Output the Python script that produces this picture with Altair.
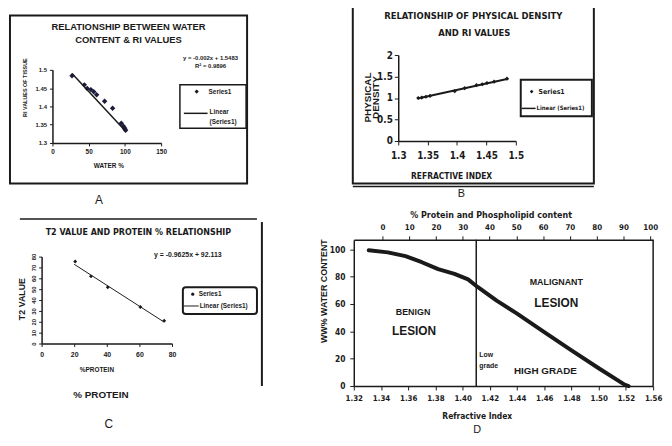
import altair as alt
import pandas as pd

# ---------------- data ----------------
# Panel A : water content vs RI value of tissue
a_water = [27, 44, 48, 53, 57, 61, 72, 83, 95, 98, 99.5, 100, 101]
a_ri = [1.484, 1.459, 1.449, 1.446, 1.440, 1.432, 1.414, 1.395, 1.354, 1.346, 1.341, 1.338, 1.335]
a_fit_water = [27, 101]
a_fit_ri = [1.490, 1.332]
a_x_ticks = [0, 50, 100, 150]
a_y_ticks = [1.3, 1.35, 1.4, 1.45, 1.5]

# Panel B : physical density vs refractive index
b_ri = [1.334, 1.340, 1.347, 1.354, 1.396, 1.413, 1.433, 1.443, 1.451, 1.463, 1.485]
b_density = [1.00, 1.01, 1.03, 1.05, 1.16, 1.23, 1.30, 1.32, 1.35, 1.38, 1.45]
b_fit_ri = [1.333, 1.487]
b_fit_density = [0.99, 1.45]
b_x_ticks = [1.3, 1.35, 1.4, 1.45, 1.5]
b_y_ticks = [0, 0.5, 1, 1.5, 2]

# Panel C : T2 value vs protein %
c_protein = [20.6, 30.3, 40.6, 60.6, 75.2]
c_t2 = [75.5, 61.8, 51.8, 33.6, 20.9]
c_fit_protein = [20, 75]
c_fit_t2 = [72.9, 19.9]
c_x_ticks = [0, 20, 40, 60, 80]
c_y_ticks = [0, 10, 20, 30, 40, 50, 60, 70, 80]

# Panel D : water content vs refractive index
d_ri = [1.331, 1.345, 1.358, 1.370, 1.382, 1.394, 1.404, 1.411, 1.425, 1.440,
        1.460, 1.480, 1.500, 1.519, 1.522]
d_water = [99.3, 97.8, 95.0, 90.6, 85.5, 82.0, 78.0, 72.5, 62.5, 53.0,
           39.5, 26.0, 13.0, 1.0, 0.0]
d_boundary_ri = [1.41]
d_x_ticks = [1.32, 1.34, 1.36, 1.38, 1.40, 1.42, 1.44, 1.46, 1.48, 1.50, 1.52, 1.54]
d_x_labels = ["1.32", "1.34", "1.36", "1.38", "1.40", "1.42", "1.44", "1.46",
              "1.48", "1.50", "1.52", "1.56"]
d_y_ticks = [0, 20, 40, 60, 80, 100]
d_top_ticks = [0, 10, 20, 30, 40, 50, 60, 70, 80, 90, 100]

# ---------------- layout helpers ----------------
W, H = 664, 430
INK = "#1a1a1a"
SANS = "Liberation Sans, Arial, sans-serif"
NARROW = "Liberation Sans Narrow, DejaVu Sans Condensed, Liberation Sans, sans-serif"
ONE = pd.DataFrame({"k": [0]})


def scale(domain, lo, hi):
    return alt.Scale(domain=domain, range=[lo, hi], nice=False, zero=False)


def xaxis(ypos, values, size, font=SANS, orient="bottom", **kw):
    off = ypos - H if orient == "bottom" else -ypos
    return alt.Axis(orient=orient, offset=off, values=values, title=None, grid=False,
                    labelFontSize=size, labelFont=font, labelFontWeight="bold",
                    labelColor=INK, domainColor=INK, tickColor=INK,
                    labelOverlap=False, labelFlush=False, **kw)


def yaxis(xpos, values, size, font=SANS, **kw):
    return alt.Axis(orient="left", offset=-xpos, values=values, title=None, grid=False,
                    labelFontSize=size, labelFont=font, labelFontWeight="bold",
                    labelColor=INK, domainColor=INK, tickColor=INK,
                    labelOverlap=False, labelFlush=False, **kw)


def label(text, x, y, size=9, weight="bold", align="center", angle=0, font=SANS):
    return alt.Chart(ONE).mark_text(text=text, align=align, baseline="middle", fontSize=size,
                                    fontWeight=weight, font=font, angle=angle, color=INK
                                    ).encode(x=alt.value(x), y=alt.value(y))


def box(x1, y1, x2, y2, width=1.5, radius=0):
    return alt.Chart(ONE).mark_rect(fillOpacity=0, stroke=INK, strokeWidth=width,
                                    cornerRadius=radius
                                    ).encode(x=alt.value(x1), x2=alt.value(x2),
                                             y=alt.value(y1), y2=alt.value(y2))


def seg(x1, y1, x2, y2, width=1.5):
    return alt.Chart(ONE).mark_rule(color=INK, strokeWidth=width).encode(
        x=alt.value(x1), x2=alt.value(x2), y=alt.value(y1), y2=alt.value(y2))


def marker(x, y, shape="diamond", size=20):
    return alt.Chart(ONE).mark_point(shape=shape, filled=True, size=size, color=INK,
                                     opacity=1).encode(x=alt.value(x), y=alt.value(y))


layers = []

# ---------------- Panel A ----------------
ax_s = scale([0, 150], 45, 155)
ay_s = scale([1.3, 1.5], 134, 60)
layers += [
    box(2, 5, 242, 175, 2),
    label("RELATIONSHIP BETWEEN WATER", 122, 17, 9.5),
    label("CONTENT & RI VALUES", 122, 30, 9.5),
    label("y = -0.002x + 1.5483", 205, 48, 6),
    label("R² = 0.9896", 205, 56, 6),
    box(174, 75, 241, 119, 1.5),
    marker(191, 82, size=18),
    label("Series1", 203, 82, 6.5, align="left"),
    seg(178, 104, 202, 104, 1.5),
    label("Linear", 204, 103, 6.5, align="left"),
    label("(Series1)", 204, 113, 6.5, align="left"),
    label("RI VALUES OF TISSUE", 17, 78, 5.5, angle=270),
    label("WATER %", 102, 157, 6.5),
    label("A", 92, 192, 12, weight="normal"),
]
layers.append(
    alt.Chart(pd.DataFrame({"w": a_water, "ri": a_ri})).mark_point(
        shape="diamond", filled=True, size=30, color="#1c1c3c", opacity=1).encode(
        x=alt.X("w:Q", scale=ax_s, axis=xaxis(134, a_x_ticks, 6.5, tickSize=3, labelPadding=3)),
        y=alt.Y("ri:Q", scale=ay_s, axis=yaxis(45, a_y_ticks, 6, format=".3~g", tickSize=3,
                                                labelPadding=3)))
)
layers.append(
    alt.Chart(pd.DataFrame({"w": a_fit_water, "ri": a_fit_ri})).mark_line(
        color=INK, strokeWidth=1.5).encode(
        x=alt.X("w:Q", scale=ax_s, axis=None), y=alt.Y("ri:Q", scale=ay_s, axis=None))
)

# ---------------- Panel B ----------------
bx_s = scale([1.3, 1.5], 395, 514)
by_s = scale([0, 2], 132, 45)
layers += [
    box(349, -10, 593, 175, 2),
    seg(349, 178, 593, 178, 1.5),
    label("RELATIONSHIP OF PHYSICAL DENSITY", 471, 6, 9.5, font=NARROW),
    label("AND RI VALUES", 472, 23, 9.5, font=NARROW),
    label("PHYSICAL", 364, 88, 10, angle=270),
    label("DENSITY", 373, 88, 10, angle=270),
    label("REFRACTIVE INDEX", 449, 167, 8.5, font=NARROW),
    box(519, 70, 591, 107, 2),
    marker(530, 82, size=14),
    label("Series1", 537, 82, 7, align="left", font=NARROW),
    seg(520, 99, 534, 99, 1.5),
    label("Linear (Series1)", 535, 99, 6, align="left", font=NARROW),
    label("B", 459, 186, 11, weight="normal"),
]
layers.append(
    alt.Chart(pd.DataFrame({"ri": b_ri, "d": b_density})).mark_point(
        shape="diamond", filled=True, size=18, color=INK, opacity=1).encode(
        x=alt.X("ri:Q", scale=bx_s, axis=xaxis(132, b_x_ticks, 10, NARROW, format=".3~g",
                                                tickSize=4, labelPadding=6)),
        y=alt.Y("d:Q", scale=by_s, axis=yaxis(395, b_y_ticks, 10, NARROW, format=".2~g",
                                               tickSize=4, labelPadding=2)))
)
layers.append(
    alt.Chart(pd.DataFrame({"ri": b_fit_ri, "d": b_fit_density})).mark_line(
        color=INK, strokeWidth=2).encode(
        x=alt.X("ri:Q", scale=bx_s, axis=None), y=alt.Y("d:Q", scale=by_s, axis=None))
)

# ---------------- Panel C ----------------
cx_s = scale([0, 80], 34, 166)
cy_s = scale([0, 80], 337, 249)
layers += [
    seg(12, 211, 252, 211, 1.5),
    seg(257, 214, 257, 380, 2),
    label("T2 VALUE AND PROTEIN % RELATIONSHIP", 132, 224, 9, font=NARROW),
    label("y = -0.9625x + 92.113", 182, 247, 7),
    label("T2 VALUE", 14, 292, 9, angle=270),
    label("%PROTEIN", 90, 364, 6.5),
    label("% PROTEIN", 94, 389, 10),
    label("C", 102, 419, 12, weight="normal"),
    box(177, 280, 252, 307, 2, radius=3),
    marker(187, 287, shape="circle", size=10),
    label("Series1", 193, 287, 6.5, align="left"),
    seg(178, 299, 193, 299, 1),
    label("Linear (Series1)", 194, 299, 6.5, align="left"),
]
layers.append(
    alt.Chart(pd.DataFrame({"p": c_protein, "t2": c_t2})).mark_point(
        shape="diamond", filled=True, size=16, color=INK, opacity=1).encode(
        x=alt.X("p:Q", scale=cx_s, axis=xaxis(337, c_x_ticks, 7, tickSize=3, labelPadding=4)),
        y=alt.Y("t2:Q", scale=cy_s, axis=yaxis(34, c_y_ticks, 6, labelAngle=270,
                                                tickSize=3, labelPadding=2)))
)
layers.append(
    alt.Chart(pd.DataFrame({"p": c_fit_protein, "t2": c_fit_t2})).mark_line(
        color=INK, strokeWidth=1).encode(
        x=alt.X("p:Q", scale=cx_s, axis=None), y=alt.Y("t2:Q", scale=cy_s, axis=None))
)

# ---------------- Panel D ----------------
dx_s = scale([1.32, 1.54], 350, 653)
dy_s = scale([0, 107], 380, 232)
dtop_s = scale([-10.7, 101.1], 350, 653)
lbl_arr = "[" + ",".join("'%s'" % s for s in d_x_labels) + "]"
d_label_expr = lbl_arr + "[round((datum.value - 1.32) / 0.02)]"
layers += [
    seg(653, 232, 653, 380, 1.5),
    label("% Protein and Phospholipid content", 489, 207, 9, font=NARROW),
    label("WW% WATER CONTENT", 320, 284, 9, angle=270),
    label("Refractive Index", 475, 410, 8.5, font=NARROW),
    label("D", 475, 425, 11, weight="normal"),
    label("BENIGN", 410, 305, 9),
    label("LESION", 411, 324, 12),
    label("MALIGNANT", 555, 275, 9),
    label("LESION", 555, 296, 12),
    label("Low", 477, 349, 7, align="left"),
    label("grade", 477, 360, 7, align="left"),
    label("HIGH GRADE", 544, 365, 10),
]
layers.append(
    alt.Chart(pd.DataFrame({"p": d_top_ticks})).mark_point(opacity=0).encode(
        x=alt.X("p:Q", scale=dtop_s, axis=xaxis(232, d_top_ticks, 8, NARROW, orient="top",
                                                tickSize=4, labelPadding=4)))
)
layers.append(
    alt.Chart(pd.DataFrame({"ri": d_boundary_ri, "lo": [0], "hi": [107]})).mark_rule(
        color=INK, strokeWidth=1.5).encode(
        x=alt.X("ri:Q", scale=dx_s, axis=None),
        y=alt.Y("lo:Q", scale=dy_s, axis=None), y2="hi:Q")
)
layers.append(
    alt.Chart(pd.DataFrame({"ri": d_ri, "w": d_water})).mark_line(
        color=INK, strokeWidth=4, strokeCap="round", strokeJoin="round").encode(
        x=alt.X("ri:Q", scale=dx_s, axis=xaxis(380, d_x_ticks, 8, NARROW,
                                                labelExpr=d_label_expr, tickSize=4,
                                                labelPadding=5)),
        y=alt.Y("w:Q", scale=dy_s, axis=yaxis(350, d_y_ticks, 8.5, NARROW, tickSize=4,
                                               labelPadding=5)))
)

chart = alt.layer(*layers).resolve_scale(
    x="independent", y="independent"
).resolve_axis(
    x="independent", y="independent"
).properties(
    width=W, height=H, padding=0,
    autosize=alt.AutoSizeParams(type="none"),
).configure_view(strokeWidth=0).configure_axis(domainWidth=1.5, tickWidth=1)

chart.save("out.html", embed_options={"renderer": "svg", "actions": False})
